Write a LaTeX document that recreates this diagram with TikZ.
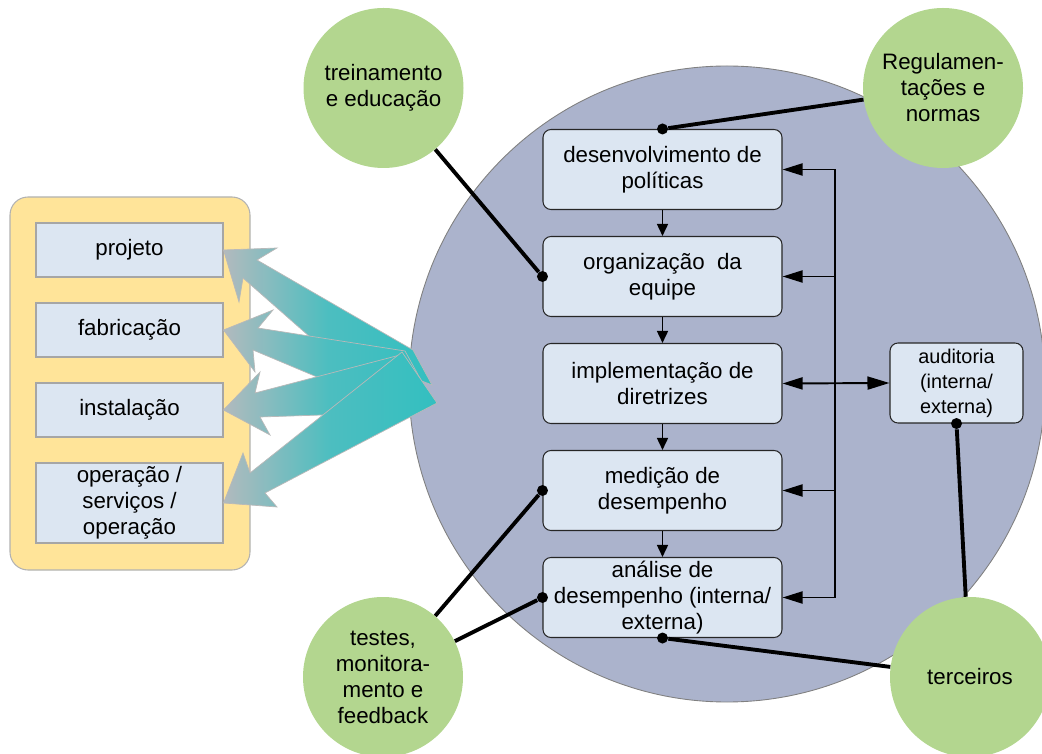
\documentclass[tikz,border=0pt]{standalone}
\usepackage{fontspec}
\setmainfont{Liberation Sans}
\usepackage{tikz}
\usetikzlibrary{positioning,arrows.meta}
\definecolor{sysblue}{RGB}{171,179,204}
\definecolor{leafgreen}{RGB}{179,214,143}
\definecolor{panelyellow}{RGB}{255,228,153}
\definecolor{boxblue}{RGB}{220,230,242}
\definecolor{fangray}{RGB}{178,186,190}
\definecolor{fanteal}{RGB}{51,191,192}
\tikzset{
    on grid,
    node distance=2.14cm,
    txt/.style = {
        font=\fontsize{12.7}{14.8}\selectfont,
        align=center
    },
    flowbox/.style = {
        draw=black!85,
        fill=boxblue,
        shape=rectangle,
        rounded corners=0.16cm,
        minimum height=1.6cm,
        minimum width=4.78cm,
        inner sep=1pt,
        line width=0.6pt,
        txt
    },
    stage/.style = {
        draw=gray!70,
        fill=boxblue,
        shape=rectangle,
        minimum height=1.08cm,
        minimum width=3.74cm,
        inner sep=1pt,
        line width=0.6pt,
        txt
    },
    actor/.style = {
        shape=circle,
        fill=leafgreen,
        minimum size=3.2cm,
        inner sep=0pt,
        txt
    },
    dot/.style = {
        shape=circle,
        fill=black,
        minimum size=0.22cm,
        inner sep=0pt
    },
    link/.style = {line width=2.2pt},
    feed/.style = {line width=1.1pt, -{Triangle[length=0.4cm,width=0.24cm]}},
    next/.style = {line width=0.9pt, -{Triangle[length=0.24cm,width=0.22cm]}},
    fan/.style = {draw=gray!55, line width=0.4pt, left color=fangray, right color=fanteal, middle color=fanteal!80!fangray},
}

\begin{document}
\begin{tikzpicture}
    \useasboundingbox (0,0) rectangle (20.84,-15.08);

    % sistema de gestao
    \node[shape=circle, draw=gray, fill=sysblue, minimum size=12.72cm, line width=0.5pt] (sistema) at (14.54,-7.68) {};

    % fases do ciclo de vida
    \node[draw=gray!60, fill=panelyellow, rounded corners=0.36cm, minimum width=4.8cm, minimum height=7.46cm, line width=0.6pt] (painel) at (2.6,-7.67) {};
    \node[stage] (projeto) at (2.59,-5.0) {projeto};
    \node[stage] (fabric) [below=1.6cm of projeto] {fabricação};
    \node[stage] (instal) [below=1.6cm of fabric] {instalação};
    \node[stage, minimum height=1.6cm] (operac) [below=1.86cm of instal] {operação /\\serviços /\\operação};

    % setas largas
    \path[fan] (projeto.east) -- (5.54,-4.96) -- (5.14,-5.20) -- (8.26,-7.00) -- (8.64,-7.70) -- (6.20,-6.74) -- (4.86,-5.56) -- (4.78,-6.04) -- cycle;
    \path[fan] (fabric.east) -- (5.46,-6.20) -- (5.16,-6.56) -- (8.10,-7.02) -- (8.64,-8.00) -- (6.34,-7.54) -- (5.06,-7.00) -- (5.10,-7.44) -- cycle;
    \path[fan] (instal.east) -- (5.20,-7.44) -- (5.10,-7.86) -- (8.00,-7.10) -- (8.68,-8.10) -- (6.44,-8.30) -- (5.20,-8.34) -- (5.40,-8.70) -- cycle;
    \path[fan] (operac.east) -- (4.86,-9.06) -- (5.00,-9.46) -- (8.04,-7.04) -- (8.74,-8.06) -- (5.30,-9.86) -- (5.54,-10.14) -- cycle;

    % ciclo
    \node[flowbox] (desenv) at (13.25,-3.39) {desenvolvimento de\\políticas};
    \node[flowbox] (organiz) [below=of desenv] {organização~ da\\equipe};
    \node[flowbox] (implem) [below=of organiz] {implementação de\\diretrizes};
    \node[flowbox] (medicao) [below=of implem] {medição de\\desempenho};
    \node[flowbox] (analise) [below=of medicao] {análise de\\desempenho (interna/\\externa)};
    \node[flowbox, minimum width=2.66cm, font=\fontsize{11.3}{14.2}\selectfont] (audit) at (19.13,-7.66) {auditoria\\(interna/\\externa)};

    \path[draw, next] (desenv) -- (organiz);
    \path[draw, next] (organiz) -- (implem);
    \path[draw, next] (implem) -- (medicao);
    \path[draw, next] (medicao) -- (analise);

    \coordinate (bustop) at (16.7,-3.39);
    \path[draw, feed] (bustop |- analise.east) |- (desenv.east);
    \path[draw, feed] (bustop) |- (analise.east);
    \path[draw, feed] (bustop |- organiz.east) -- (organiz.east);
    \path[draw, feed] (bustop |- medicao.east) -- (medicao.east);
    \path[draw, feed, {Triangle[length=0.4cm,width=0.24cm]}-{Triangle[length=0.44cm,width=0.26cm]}] (implem.east) -- (audit.west);

    % partes externas
    \node[actor] (treino) at (7.67,-1.76) {treinamento\\e educação};
    \node[actor] (regul) at (18.86,-1.76) {Regulamen-\\tações e\\normas};
    \node[actor] (testes) at (7.66,-13.54) {testes,\\monitora-\\mento e\\feedback};
    \node[actor] (terceiros) at (19.4,-13.54) {terceiros};

    \node[dot] (d1) at (desenv.north) {};
    \node[dot] (d2) at (organiz.west) {};
    \node[dot] (d3) at (medicao.west) {};
    \node[dot] (d4) at (analise.west) {};
    \node[dot] (d5) at (analise.south) {};
    \node[dot] (d6) at (audit.south) {};

    \path[draw, link] (regul) -- (d1);
    \path[draw, link] (treino) -- (d2);
    \path[draw, link] (testes) -- (d3);
    \path[draw, link] (testes) -- (d4);
    \path[draw, link] (terceiros) -- (d5);
    \path[draw, link] (terceiros) -- (d6);
\end{tikzpicture}
\end{document}
